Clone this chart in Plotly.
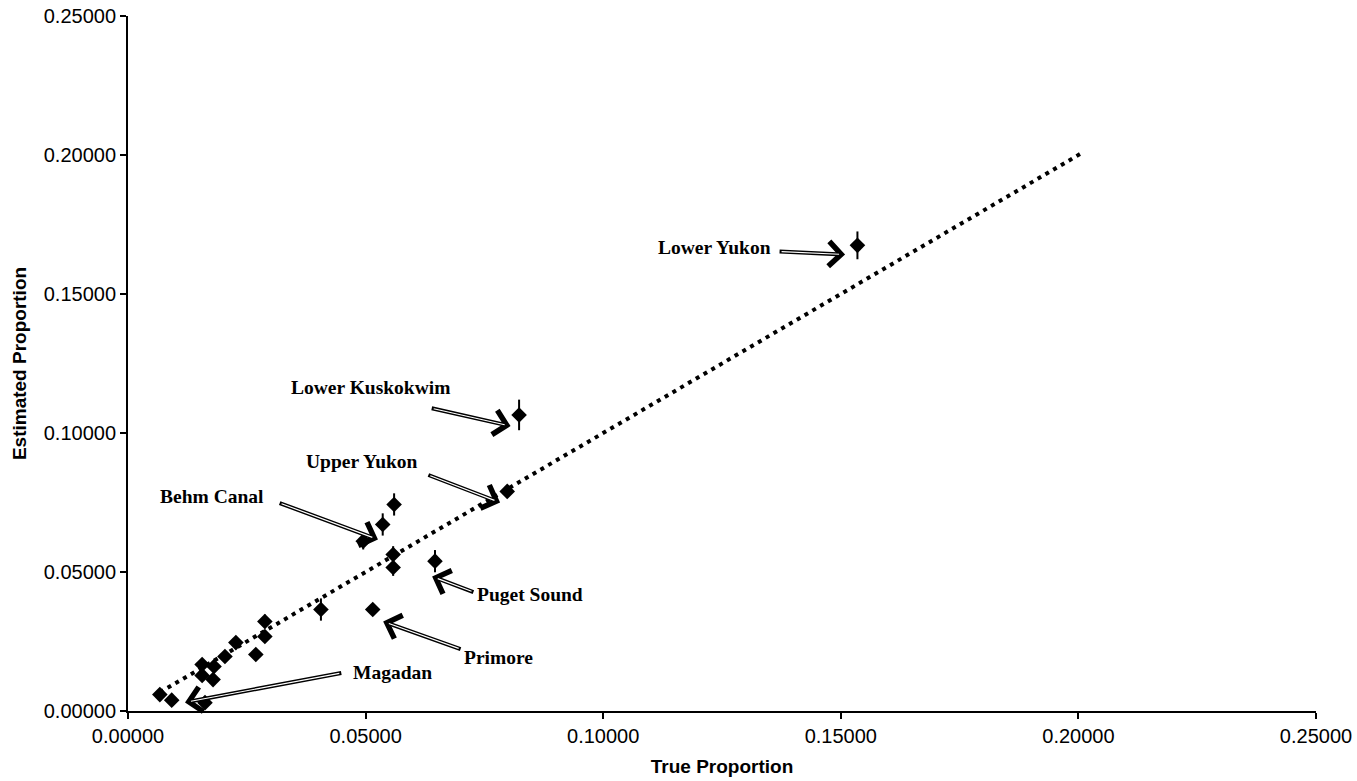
import plotly.graph_objects as go

# True vs. estimated stock proportions (one point per reporting group)
true_prop = [0.0067, 0.0092, 0.0162, 0.0156, 0.0181, 0.0156, 0.0179, 0.0204,
             0.0227, 0.0269, 0.0288, 0.0288, 0.0406, 0.0515, 0.0495, 0.0536,
             0.0560, 0.0558, 0.0558, 0.0646, 0.0798, 0.0823, 0.1535]
est_prop = [0.0059, 0.0039, 0.0030, 0.0167, 0.0160, 0.0128, 0.0113, 0.0196,
            0.0246, 0.0203, 0.0322, 0.0268, 0.0365, 0.0365, 0.0611, 0.0671,
            0.0743, 0.0563, 0.0516, 0.0539, 0.0790, 0.1065, 0.1675]
est_err = [0.0005, 0.0005, 0.0005, 0.0020, 0.0015, 0.0015, 0.0015, 0.0010,
           0.0015, 0.0010, 0.0025, 0.0020, 0.0040, 0.0010, 0.0030, 0.0040,
           0.0040, 0.0030, 0.0030, 0.0040, 0.0015, 0.0055, 0.0050]

# 1:1 reference line
one_to_one = [0.0067, 0.2005]

# Callout labels: text position, arrow tail, arrow head (data units)
labels = ["Lower Yukon", "Lower Kuskokwim", "Upper Yukon", "Behm Canal",
          "Puget Sound", "Primore", "Magadan"]
label_x = [0.1235, 0.0511, 0.0492, 0.0177, 0.0846, 0.0779, 0.0556]
label_y = [0.1667, 0.1164, 0.0898, 0.0772, 0.0419, 0.0192, 0.0138]
tail_x = [0.1368, 0.0636, 0.0629, 0.0316, 0.0730, 0.0703, 0.0452]
tail_y = [0.1653, 0.1090, 0.0851, 0.0750, 0.0426, 0.0221, 0.0138]
head_x = [0.1509, 0.0805, 0.0783, 0.0526, 0.0640, 0.0537, 0.0120]
head_y = [0.1642, 0.1025, 0.0750, 0.0617, 0.0484, 0.0322, 0.0031]

x_ticks = [0.0, 0.05, 0.10, 0.15, 0.20, 0.25]
y_ticks = [0.0, 0.05, 0.10, 0.15, 0.20, 0.25]

fig = go.Figure()

fig.add_trace(go.Scatter(
    x=one_to_one, y=one_to_one, mode="lines",
    line=dict(color="black", width=4, dash="4px,5px"),
    hoverinfo="skip", showlegend=False,
))

fig.add_trace(go.Scatter(
    x=true_prop, y=est_prop, mode="markers",
    marker=dict(symbol="diamond", size=12, color="black"),
    error_y=dict(type="data", array=est_err, visible=True,
                 color="black", thickness=2, width=0),
    showlegend=False,
))

annotations = []
for i, name in enumerate(labels):
    # outlined arrow: black stroke with a thin white core
    annotations.append(dict(
        x=head_x[i], y=head_y[i], ax=tail_x[i], ay=tail_y[i],
        xref="x", yref="y", axref="x", ayref="y",
        text="", showarrow=True, arrowhead=4, arrowsize=1.2,
        arrowwidth=4, arrowcolor="black",
    ))
    annotations.append(dict(
        x=head_x[i], y=head_y[i], ax=tail_x[i], ay=tail_y[i],
        xref="x", yref="y", axref="x", ayref="y",
        text="", showarrow=True, arrowhead=0, arrowsize=1,
        arrowwidth=1.2, arrowcolor="white", standoff=6, startstandoff=2,
    ))
    annotations.append(dict(
        x=label_x[i], y=label_y[i], xref="x", yref="y",
        text="<b>" + name + "</b>", showarrow=False,
        font=dict(family="Liberation Serif", size=19.5, color="black"),
        xanchor="center", yanchor="middle",
    ))

fig.update_layout(
    width=1357, height=781,
    margin=dict(l=128, r=41, t=16, b=70),
    paper_bgcolor="white", plot_bgcolor="white",
    font=dict(family="Liberation Sans", size=20, color="black"),
    annotations=annotations,
    xaxis=dict(
        range=[0, 0.25], tickvals=x_ticks, tickformat=".5f",
        showgrid=False, zeroline=False, automargin=False,
        showline=True, linecolor="black", linewidth=2,
        ticks="outside", ticklen=6, tickwidth=2, tickcolor="black",
        title=dict(text="<b>True Proportion</b>", standoff=14,
                   font=dict(family="Liberation Sans", size=19)),
    ),
    yaxis=dict(
        range=[0, 0.25], tickvals=y_ticks, tickformat=".5f",
        showgrid=False, zeroline=False, automargin=False,
        showline=True, linecolor="black", linewidth=2,
        ticks="outside", ticklen=6, tickwidth=2, tickcolor="black",
        title=dict(text="<b>Estimated Proportion</b>", standoff=12,
                   font=dict(family="Liberation Sans", size=19)),
    ),
)

fig.write_html("out.html")
